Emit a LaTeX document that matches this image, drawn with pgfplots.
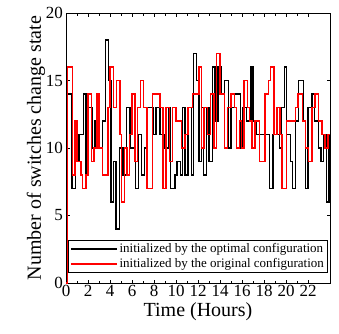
\documentclass[border=0pt]{standalone}
\usepackage{pgfplots}
\pgfplotsset{compat=1.18}
\usepackage{fontspec}
\setmainfont{Liberation Serif}
\begin{document}
\begin{tikzpicture}
\path[use as bounding box] (-66pt,-50pt) rectangle (273pt,283pt);
\begin{axis}[
 at={(0pt,0pt)}, anchor=south west,
 scale only axis, width=264pt, height=270pt,
 xmin=0, xmax=24, ymin=0, ymax=20,
 xtick={0,2,...,22}, minor x tick num=1,
 ytick={0,5,...,20},
 tick align=inside,
 major tick length=3.5pt, minor tick length=2.5pt,
 tick style={black, line width=0.6pt},
 axis line style={line width=0.8pt},
 ticklabel style={font=\fontsize{17}{17}\selectfont},
 xticklabel style={inner sep=1pt, yshift=-1pt},
 yticklabel style={inner sep=1pt, xshift=-2pt},
 /pgf/number format/assume math mode=true,
 xlabel={Time (Hours)}, ylabel={Number of switches change state},
 label style={font=\fontsize{20}{20}\selectfont},
 xlabel style={yshift=-1pt},
 ylabel style={yshift=-4pt},
 legend style={at={(0.5,0.037)}, anchor=south, font=\fontsize{13}{15}\selectfont,
   draw=black, line width=0.8pt, inner sep=1.5pt, row sep=0pt},
 legend cell align=left,
 legend image code/.code={\draw[#1] (0pt,0pt) -- (46pt,0pt);},
 const plot,
]
\addplot[black, line width=1.5pt] coordinates {
(0,3) (0.15,14) (0.55,7) (0.85,9) (1.2,11) (1.6,14) (1.8,8) (2.05,13) (2.35,10) (2.65,12)
(3.0,10) (3.3,12) (3.6,18) (3.88,15) (4.1,6) (4.3,9) (4.55,4) (4.85,10) (5.2,8) (5.5,13)
(5.8,10) (6.3,7) (6.6,11) (6.85,8) (7.15,10) (7.4,13) (7.94,11) (8.18,13) (8.55,11) (8.9,10)
(9.3,13) (9.5,7) (9.9,8) (10.1,9) (10.4,8) (10.6,13) (10.8,8) (11.1,13) (11.4,8) (11.6,17)
(11.85,15) (12.1,9) (12.3,13) (12.5,8) (12.75,13) (13.0,9) (13.3,16) (13.55,12) (13.8,16) (14.1,14)
(14.4,15) (14.75,10) (15.0,13) (15.3,14) (15.88,10) (16.1,13) (16.4,12) (16.8,16) (17.0,12) (17.3,11)
(18.5,7) (18.8,11) (19.4,10) (19.6,13) (19.88,16) (20.06,11) (20.4,9) (20.6,7) (20.85,12) (21.15,15)
(21.6,12) (21.75,7) (22.0,13) (22.35,14) (22.6,12) (22.97,10) (23.2,9) (23.4,11) (23.7,6) (23.9,11)
(24,11)
};
\addlegendentry{initialized by the optimal configuration}
\addplot[red, line width=1.5pt] coordinates {
(0,0) (0.15,16) (0.6,8) (0.8,12) (1.0,9) (1.35,8) (1.5,7) (1.8,8) (2.0,14) (2.3,9)
(2.55,10) (2.8,14) (3.0,10) (3.3,8) (3.8,13) (4.0,16) (4.3,13) (4.6,15) (4.9,11) (5.05,6)
(5.3,10) (5.55,8) (5.75,11) (6.0,14) (6.25,9) (6.5,13) (6.75,15) (7.05,13) (7.35,7) (7.88,14)
(8.55,13) (8.8,7) (9.1,13) (9.4,9) (9.7,13) (10.0,12) (10.5,10) (10.8,11) (11.1,13) (11.5,14)
(12.1,16) (12.3,10) (12.55,13) (12.85,11) (13.15,14) (13.45,10) (13.7,17) (14.0,14) (14.4,10) (14.7,13)
(15.0,14) (15.3,13) (15.5,10) (15.75,12) (15.95,10) (16.2,15) (16.5,13) (16.7,12) (16.9,10) (17.2,12)
(17.6,9) (18.1,14) (18.4,15) (18.6,16) (18.9,11) (19.2,13) (19.45,11) (19.65,7) (20.05,12) (20.85,13)
(21.1,14) (21.5,12) (21.75,10) (22.05,9) (22.35,13) (22.65,14) (22.95,12) (23.25,11) (23.55,10) (23.8,11)
(24,11)
};
\addlegendentry{initialized by the original configuration}
\end{axis}
\end{tikzpicture}
\end{document}
